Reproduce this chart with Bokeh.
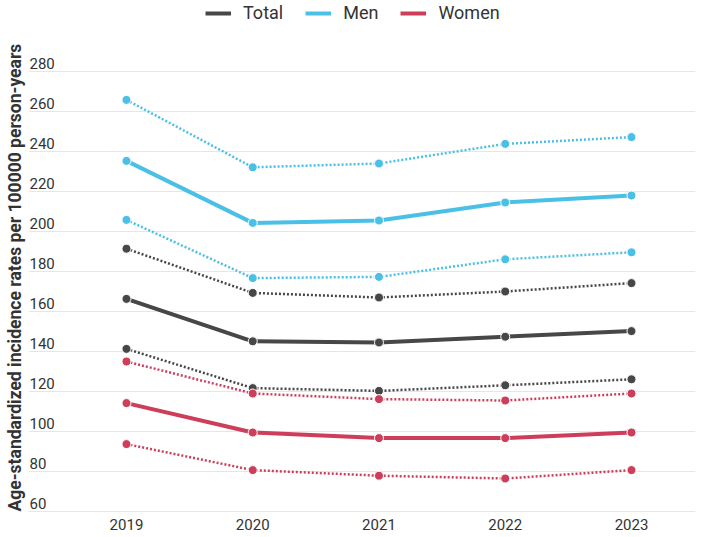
from bokeh.plotting import figure
from bokeh.models import Legend, LegendItem, FixedTicker, Title
from bokeh.core.properties import value
from bokeh.embed import file_html
from bokeh.resources import INLINE

years = [2019, 2020, 2021, 2022, 2023]
year_labels = ["2019", "2020", "2021", "2022", "2023"]

total_mid = [166.3, 145.1, 144.5, 147.4, 150.2]
total_upper = [191.4, 169.3, 167.0, 170.0, 174.2]
total_lower = [141.3, 121.7, 120.3, 123.1, 126.1]

men_mid = [235.3, 204.3, 205.5, 214.5, 218.0]
men_upper = [265.8, 232.1, 234.0, 243.8, 247.2]
men_lower = [205.8, 176.7, 177.3, 186.1, 189.6]

women_mid = [114.2, 99.5, 96.7, 96.7, 99.5]
women_upper = [135.0, 119.0, 116.2, 115.5, 119.0]
women_lower = [93.7, 80.7, 77.9, 76.5, 80.7]

y_ticks = [60, 80, 100, 120, 140, 160, 180, 200, 220, 240, 260, 280]
y_tick_labels = [str(t) for t in y_ticks]

y_title = "Age-standardized incidence rates per 100000 person-years"
series_names = ["Total", "Men", "Women"]
colors = ["#474747", "#4bc0e6", "#cd3e5a"]

FONT = "Roboto"
TXT = "#333333"

p = figure(width=701, height=537, output_backend="svg", toolbar_location=None,
           x_range=(2018.224, 2023.507), y_range=(59.5, 315.5),
           min_border_left=28, min_border_right=6, min_border_bottom=25,
           min_border_top=0)
p.outline_line_color = None
p.background_fill_color = "white"
p.border_fill_color = "white"

p.yaxis.visible = False
p.xgrid.visible = False
p.ygrid.ticker = FixedTicker(ticks=y_ticks)
p.ygrid.grid_line_color = "#e6e6e6"
p.ygrid.grid_line_width = 1

xa = p.xaxis[0]
xa.ticker = FixedTicker(ticks=years)
xa.major_label_overrides = {y: l for y, l in zip(years, year_labels)}
xa.axis_line_color = None
xa.major_tick_line_color = None
xa.minor_tick_line_color = None
xa.major_tick_out = 0
xa.major_tick_in = 0
xa.major_label_text_font = FONT
xa.major_label_text_font_size = "15px"
xa.major_label_text_color = TXT
xa.major_label_standoff = 6

# y tick labels sitting above the grid lines
p.text(x=[2018.224] * len(y_ticks), y=y_ticks, text=y_tick_labels,
       text_font=value(FONT), text_font_size="15px", text_color=TXT,
       text_align="left", text_baseline="bottom", x_offset=1, y_offset=-3)

data = [
    (total_mid, total_upper, total_lower),
    (men_mid, men_upper, men_lower),
    (women_mid, women_upper, women_lower),
]

legend_items = []
for name, color, (mid, up, lo) in zip(series_names, colors, data):
    for ser in (up, lo):
        p.line(years, ser, line_color=color, line_width=2.5, line_dash="2 2")
    r = p.line(years, mid, line_color=color, line_width=4)
    for ser in (up, lo, mid):
        p.scatter(years, ser, size=9, fill_color=color, line_color="white",
                  line_width=1)
    legend_items.append(LegendItem(label=name, renderers=[r]))

legend = Legend(items=legend_items, orientation="horizontal", location=(177, 489),
                label_text_font=FONT, label_text_font_size="18px",
                label_text_color=TXT, glyph_width=26, glyph_height=16,
                label_standoff=12, spacing=22, border_line_color=None,
                background_fill_alpha=0, padding=2, margin=0)
p.add_layout(legend)

title = Title(text=y_title, align="left", offset=1, vertical_align="middle",
              standoff=6, text_font=FONT, text_font_style="bold",
              text_font_size="17.5px", text_color=TXT)
p.add_layout(title, "left")

open("out.html", "w").write(file_html(p, INLINE))
